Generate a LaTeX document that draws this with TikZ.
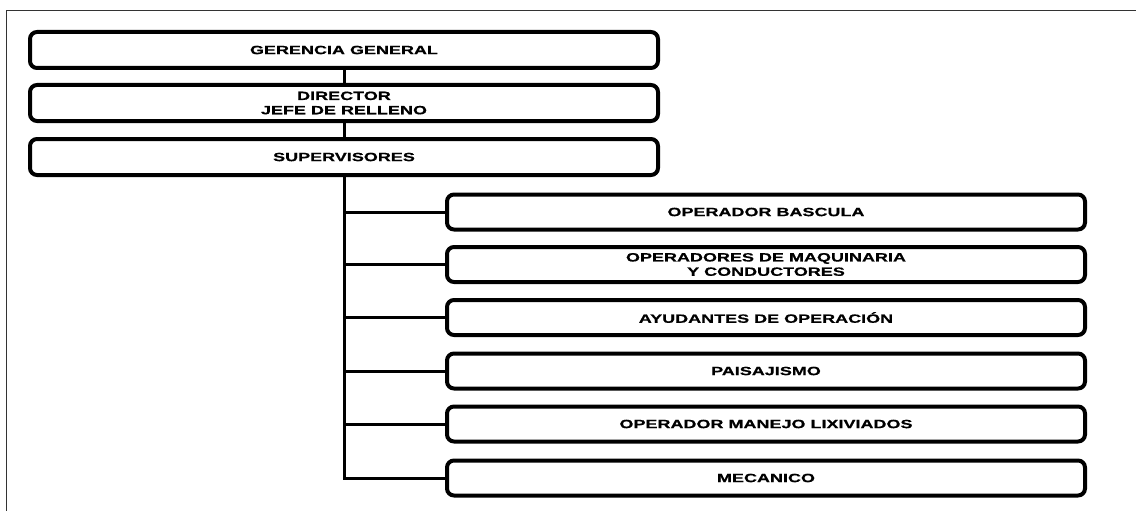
\documentclass[tikz,border=0pt]{standalone}
\usepackage{fontspec}
\newfontfamily\boxfont{Liberation Sans}[FakeStretch=1.5, FakeBold=0.6]
\begin{document}
\begin{tikzpicture}[x=1pt,y=-1pt,
  orgbox/.style={draw=black, line width=4pt, rounded corners=7pt, fill=white,
    inner sep=0pt, align=center, font=\boxfont\bfseries\fontsize{12}{14.3}\selectfont},
  topbox/.style={orgbox, minimum width=628pt, minimum height=36pt},
  subbox/.style={orgbox, minimum width=638pt, minimum height=35pt},
  link/.style={draw=black, line width=3pt},
  frameline/.style={draw=black!80, line width=1pt}]
\useasboundingbox (0,0) rectangle (1136,511);
\fill[white] (0,0) rectangle (1136,511);
% outer frame (top and left only)
\draw[frameline] (6,511) -- (6,11) -- (1136,11);
% top chain
\node[topbox] (g) at (344,50) {GERENCIA GENERAL};
\node[topbox] (d) at (344,103) {DIRECTOR\\JEFE DE RELLENO};
\node[topbox] (s) at (344,157) {SUPERVISORES};
% subordinate boxes
\node[subbox] (b1) at (766,212) {OPERADOR BASCULA};
\node[subbox] (b2) at (766,264.5) {OPERADORES DE MAQUINARIA\\Y CONDUCTORES};
\node[subbox] (b3) at (766,317.5) {AYUDANTES DE OPERACIÓN};
\node[subbox] (b4) at (766,371) {PAISAJISMO};
\node[subbox] (b5) at (766,424) {OPERADOR MANEJO LIXIVIADOS};
\node[subbox] (b6) at (766,478) {MECANICO};
% connectors
\draw[link] (g.south) -- (d.north);
\draw[link] (d.south) -- (s.north);
\coordinate (tb) at (s.south |- b6.west);
\draw[link, line join=miter] (s.south) -- (tb) -- (b6.west);
\foreach \b in {b1,b2,b3,b4,b5}{
  \draw[link] (s.south |- \b.west) -- (\b.west);
}
\end{tikzpicture}
\end{document}
